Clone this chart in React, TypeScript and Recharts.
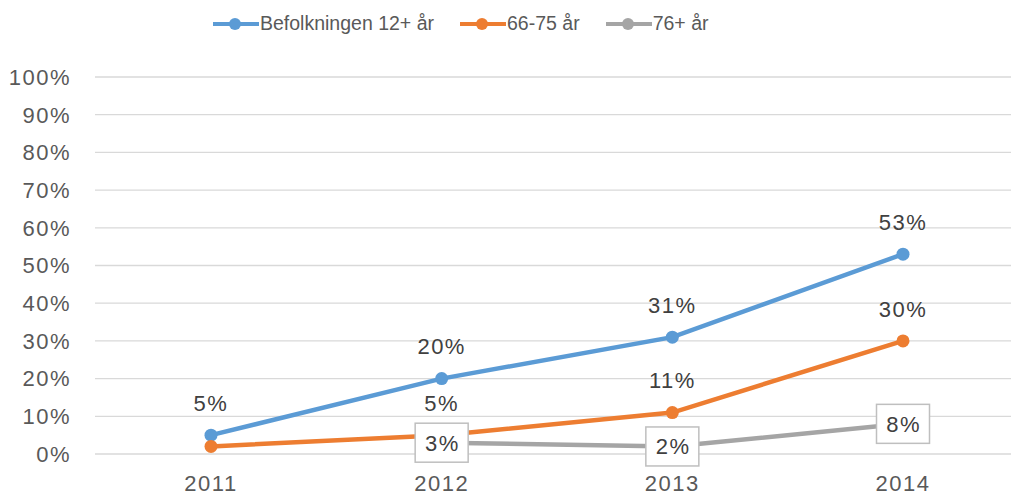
import React from "react";
import { LineChart, Line, XAxis, YAxis, CartesianGrid, Legend, LabelList } from "recharts";

const years = ["2011", "2012", "2013", "2014"];
const befolkningen = [5, 20, 31, 53];
const age6675 = [2, 5, 11, 30];
const age76 = [null, 3, 2, 8];
const yTicks = [0, 10, 20, 30, 40, 50, 60, 70, 80, 90, 100];

const seriesNames = ["Befolkningen 12+ år", "66-75 år", "76+ år"];
const colors = ["#5B9BD5", "#ED7D31", "#A5A5A5"];

const data = years.map((y, i) => ({
  year: y,
  a: befolkningen[i],
  b: age6675[i],
  c: age76[i],
}));

const FONT = "'Liberation Sans', Arial, Helvetica, sans-serif";

const aboveLabel = (skipFirst: boolean) => (props: any) => {
  const { x, y, value, index } = props;
  if (value == null || x == null || y == null) return null;
  if (skipFirst && index === 0) return null;
  return (
    <text
      x={x}
      y={y - 32}
      dy="0.355em"
      textAnchor="middle"
      fontFamily={FONT}
      fontSize={22}
      letterSpacing={1.5}
      fill="#404040"
    >
      {`${value}%`}
    </text>
  );
};

const boxLabel = (props: any) => {
  const { x, y, value } = props;
  if (value == null || x == null || y == null) return null;
  const w = 53;
  const h = 39;
  return (
    <g>
      <rect x={x - w / 2} y={y - h / 2} width={w} height={h} fill="#ffffff" stroke="#bfbfbf" strokeWidth={1.5} />
      <text
        x={x + 0.75}
        y={y}
        dy="0.355em"
        textAnchor="middle"
        fontFamily={FONT}
        fontSize={22}
        letterSpacing={1.5}
        fill="#404040"
      >
        {`${value}%`}
      </text>
    </g>
  );
};

const LegendContent = () => (
  <div style={{ height: 77, width: 1011, position: "relative" }}>
    <div
      style={{
        height: 48,
        display: "flex",
        alignItems: "center",
        paddingLeft: 213,
        fontFamily: FONT,
        fontSize: 19.5,
        color: "#595959",
        lineHeight: 1,
      }}
    >
      {seriesNames.map((n, i) => (
        <div key={n} style={{ display: "flex", alignItems: "center", marginRight: 26 }}>
          <svg width={46} height={14} style={{ display: "block" }}>
            <line x1={0} y1={7} x2={46} y2={7} stroke={colors[i]} strokeWidth={4} />
            <circle cx={22} cy={7} r={6} fill={colors[i]} />
          </svg>
          <span style={{ marginLeft: 1 }}>{n}</span>
        </div>
      ))}
    </div>
  </div>
);

export default function App() {
  return (
    <div
      style={{
        position: "absolute",
        left: 0,
        top: 0,
        width: 1011,
        height: 496,
        overflow: "hidden",
        background: "#ffffff",
      }}
    >
      <LineChart width={1030} height={496} data={data} margin={{ top: 0, right: 12, bottom: 0, left: 0 }}>
        <Legend verticalAlign="top" align="left" content={<LegendContent />} wrapperStyle={{ left: 0, top: 0 }} />
        <CartesianGrid vertical={false} stroke="#d9d9d9" strokeWidth={1.3} />
        <XAxis
          dataKey="year"
          axisLine={false}
          tickLine={false}
          tickSize={0}
          tickMargin={21}
          height={42}
          padding={{ left: 116, right: 115 }}
          tick={{ fontFamily: FONT, fontSize: 22, letterSpacing: 1.5, fill: "#595959" }}
        />
        <YAxis
          domain={[0, 100]}
          ticks={yTicks}
          interval={0}
          width={95}
          axisLine={false}
          tickLine={false}
          tickSize={0}
          tickMargin={24}
          tickFormatter={(v: number) => `${v}%`}
          tick={{ fontFamily: FONT, fontSize: 22, letterSpacing: 1.5, fill: "#595959" }}
        />
        <Line
          dataKey="a"
          name={seriesNames[0]}
          stroke={colors[0]}
          strokeWidth={4.5}
          dot={{ r: 6.5, fill: colors[0], stroke: colors[0], strokeWidth: 0 }}
          activeDot={false}
          isAnimationActive={false}
        >
          <LabelList dataKey="a" content={aboveLabel(false)} />
        </Line>
        <Line
          dataKey="b"
          name={seriesNames[1]}
          stroke={colors[1]}
          strokeWidth={4.5}
          dot={{ r: 6.5, fill: colors[1], stroke: colors[1], strokeWidth: 0 }}
          activeDot={false}
          isAnimationActive={false}
        >
          <LabelList dataKey="b" content={aboveLabel(true)} />
        </Line>
        <Line
          dataKey="c"
          name={seriesNames[2]}
          stroke={colors[2]}
          strokeWidth={4.5}
          dot={{ r: 6.5, fill: colors[2], stroke: colors[2], strokeWidth: 0 }}
          activeDot={false}
          isAnimationActive={false}
        >
          <LabelList dataKey="c" content={boxLabel} />
        </Line>
      </LineChart>
    </div>
  );
}
